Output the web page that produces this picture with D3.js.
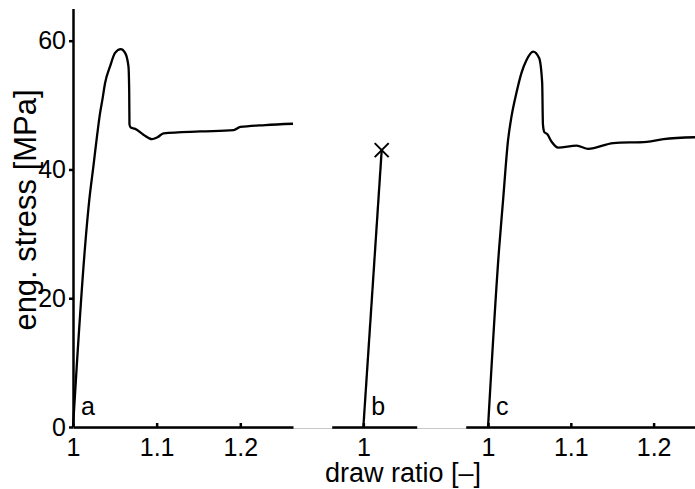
<!DOCTYPE html>
<html>
<head>
<meta charset="utf-8">
<script src="https://cdn.jsdelivr.net/npm/d3@7"></script>
<style>
    body { margin: 0; background: #fff; }
    svg { display: block; font-family: "Liberation Sans", Arial, Helvetica, sans-serif; }
    .axis path, .axis line { stroke: #000; stroke-width: 2.5; }
    .axis text { font-size: 25px; fill: #000; }
    .curve { fill: none; stroke: #000; stroke-width: 2.3; }
</style>
</head>
<body>
<div id="chart"></div>
<script>
// panel a: draw ratio vs eng. stress [MPa]
const drawA   = [1.000, 1.0044, 1.0144, 1.0195, 1.0243, 1.0291, 1.0323, 1.0351, 1.0383, 1.0443, 1.0503, 1.0571, 1.0623, 1.0663, 1.0672, 1.0675, 1.0690, 1.0743, 1.0842, 1.0942, 1.1010, 1.1082, 1.152, 1.192, 1.200, 1.230, 1.263];
const stressA = [0,     9.3,    28.0,   35.3,   40.4,   45.6,   48.7,   50.8,   53.4,   56.0,   58.1,   58.7,   58.1,   56.0,   52.0,   47.0,   46.5,   46.3,   45.4,   44.7,   45.0,   45.6,   45.9,  46.1,  46.6,  46.9,  47.1];

// panel b: breaks early
const drawB   = [1.000, 1.022];
const stressB = [0, 43.0];

// panel c
const drawC   = [1.000, 1.0133, 1.0182, 1.0242, 1.0283, 1.0343, 1.0404, 1.0465, 1.0545, 1.0617, 1.0654, 1.0663, 1.0680, 1.0714, 1.0768, 1.0847, 1.1070, 1.1210, 1.1513, 1.1918, 1.2119, 1.250];
const stressC = [0,     27.6,   35.3,   44.6,   48.2,   51.9,   55.0,   57.0,   58.3,   57.3,   53.4,   47.0,   45.8,   45.5,   44.3,   43.4,   43.7,   43.2,   44.1,   44.3,   44.7,   45.0];

const xTicksA = [1, 1.1, 1.2];
const xTicksB = [1];
const xTicksC = [1, 1.1, 1.2];
const yTicks = [0, 20, 40, 60];
const panelLabels = ["a", "b", "c"];

const width = 695, height = 489;
const y0 = 427, yTop = 8.5;

const svg = d3.select("#chart").append("svg")
    .attr("width", width)
    .attr("height", height);

const y = d3.scaleLinear().domain([0, 65]).range([y0, yTop]);

const panels = [
    { x: d3.scaleLinear().domain([1, 1.263]).range([73, 293]), draw: drawA, stress: stressA, ticks: xTicksA },
    { x: d3.scaleLinear().domain([0.962, 1.064]).range([331.7, 416.7]), draw: drawB, stress: stressB, ticks: xTicksB },
    { x: d3.scaleLinear().domain([0.973, 1.250]).range([465.7, 695]), draw: drawC, stress: stressC, ticks: xTicksC }
];

// thin grey baseline running under all three panels
svg.append("line")
    .attr("x1", 73).attr("x2", width)
    .attr("y1", y0 + 1.5).attr("y2", y0 + 1.5)
    .attr("stroke", "#c8c8c8")
    .attr("stroke-width", 1);

panels.forEach((p, i) => {
    const xAxis = d3.axisBottom(p.x)
        .tickValues(p.ticks)
        .tickFormat(d3.format("~g"))
        .tickSizeInner(-4)
        .tickSizeOuter(0)
        .tickPadding(11);

    svg.append("g")
        .attr("class", "axis x-axis")
        .attr("transform", `translate(0,${y0})`)
        .call(xAxis);

    const line = d3.line()
        .x((d, j) => p.x(p.draw[j]))
        .y((d, j) => y(p.stress[j]))
        .curve(d3.curveMonotoneX);

    svg.append("path")
        .attr("class", "curve")
        .attr("d", line(p.draw));

    svg.append("text")
        .attr("x", p.x(1) + 8)
        .attr("y", y0 - 12)
        .attr("font-size", "25px")
        .text(panelLabels[i]);
});

// break marker at the end of curve b
const pb = panels[1];
const bx = pb.x(drawB[drawB.length - 1]), by = y(stressB[stressB.length - 1]);
svg.append("path")
    .attr("d", `M${bx - 7},${by - 7}L${bx + 7},${by + 7}M${bx - 7},${by + 7}L${bx + 7},${by - 7}`)
    .attr("stroke", "#000")
    .attr("stroke-width", 2)
    .attr("fill", "none");

// y axis
svg.append("g")
    .attr("class", "axis y-axis")
    .attr("transform", "translate(73,0)")
    .call(d3.axisLeft(y).tickValues(yTicks).tickSizeInner(4).tickSizeOuter(0).tickPadding(3));

// axis labels
svg.append("text")
    .attr("x", 403)
    .attr("y", 482)
    .attr("text-anchor", "middle")
    .attr("font-size", "27px")
    .text("draw ratio [–]");

svg.append("text")
    .attr("transform", "rotate(-90)")
    .attr("x", -210)
    .attr("y", 36)
    .attr("text-anchor", "middle")
    .attr("font-size", "31px")
    .text("eng. stress [MPa]");
</script>
</body>
</html>
